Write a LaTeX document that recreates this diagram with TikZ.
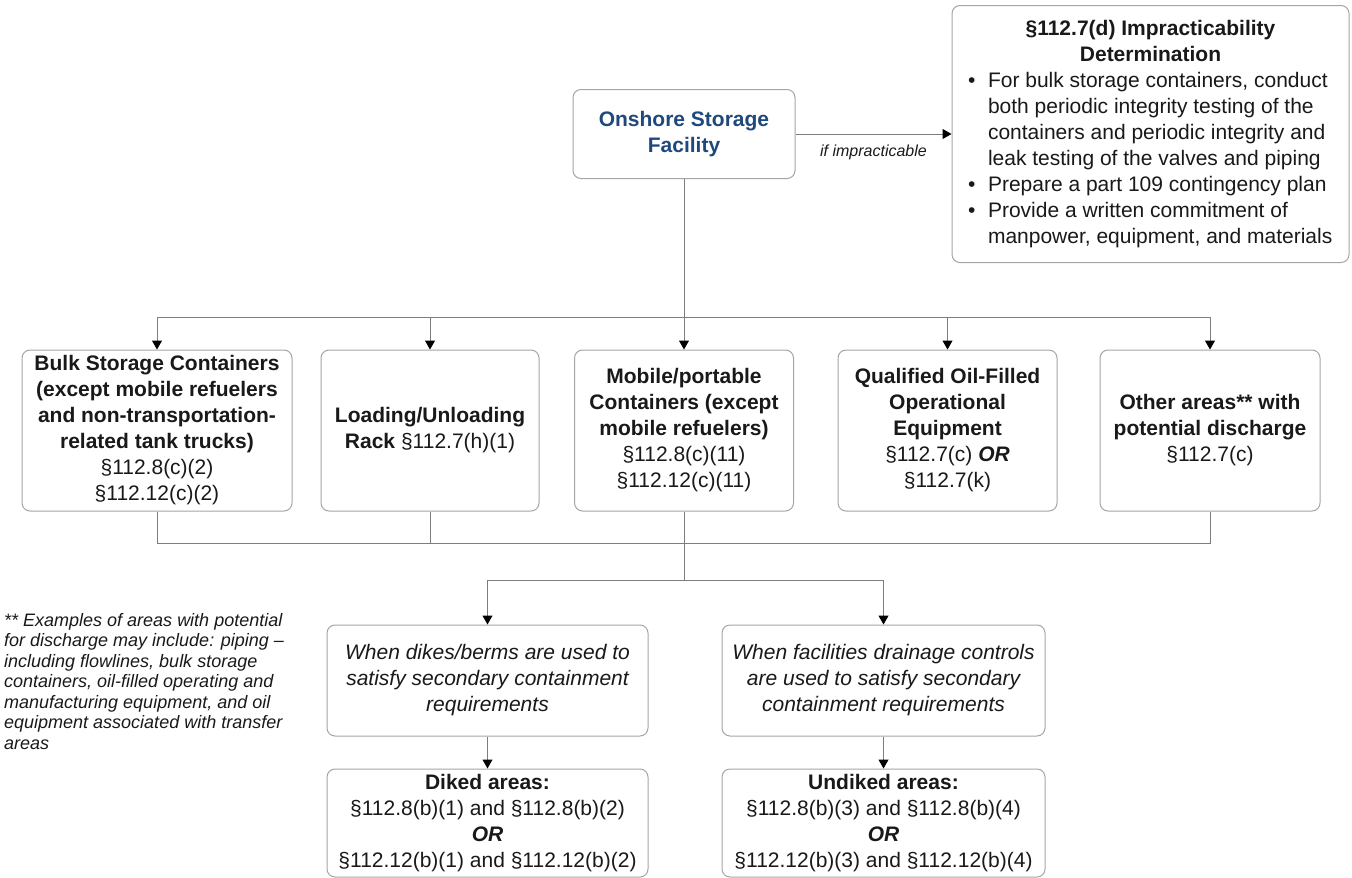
\documentclass[tikz,border=0pt]{standalone}
\usepackage{fontspec}
\setmainfont{Liberation Sans}
\usetikzlibrary{arrows.meta}
\definecolor{boxgray}{RGB}{165,165,165}
\definecolor{linegray}{RGB}{125,125,125}
\definecolor{titleblue}{RGB}{31,73,125}
\definecolor{txt}{RGB}{25,25,25}
\begin{document}
\begin{tikzpicture}[x=1pt,y=-1pt,
  box/.style={draw=boxgray, line width=1pt, rounded corners=8pt, fill=white,
    align=center, inner sep=0pt, text=txt, font=\fontsize{21}{26}\selectfont},
  conn/.style={draw=linegray, line width=1pt},
  arr/.style={conn, -{Triangle[width=10pt,length=9pt,color=black]}},
  note/.style={text=txt, inner sep=0pt},
]
\useasboundingbox (0,0) rectangle (1352,878);

% top
\node[box, minimum width=222pt, minimum height=89pt, text=titleblue,
  font=\fontsize{21}{26}\selectfont\bfseries] (onshore) at (684,134) {Onshore Storage\\Facility};

\node[box, align=left, minimum width=397pt, minimum height=257pt, inner xsep=10pt] (impr) at (1150.5,134)
{\makebox[377pt][c]{\textbf{§112.7(d) Impracticability}}\\
 \makebox[377pt][c]{\textbf{Determination}}\\
 \hspace*{6pt}\makebox[20pt][l]{\textbullet}For bulk storage containers, conduct\\
 \hspace*{26pt}both periodic integrity testing of the\\
 \hspace*{26pt}containers and periodic integrity and\\
 \hspace*{26pt}leak testing of the valves and piping\\
 \hspace*{6pt}\makebox[20pt][l]{\textbullet}Prepare a part 109 contingency plan\\
 \hspace*{6pt}\makebox[20pt][l]{\textbullet}Provide a written commitment of\\
 \hspace*{26pt}manpower, equipment, and materials};

% row of five
\node[box, minimum width=270pt, minimum height=161pt] (bulk) at (157,430.5)
{\textbf{Bulk Storage Containers}\\\textbf{(except mobile refuelers}\\\textbf{and non-transportation-}\\\textbf{related tank trucks)}\\§112.8(c)(2)\\§112.12(c)(2)};
\node[box, minimum width=218pt, minimum height=161pt] (rack) at (430,430.5)
{\textbf{Loading/Unloading}\\\textbf{Rack} §112.7(h)(1)};
\node[box, minimum width=219pt, minimum height=161pt] (mobile) at (684,430.5)
{\textbf{Mobile/portable}\\\textbf{Containers (except}\\\textbf{mobile refuelers)}\\§112.8(c)(11)\\§112.12(c)(11)};
\node[box, minimum width=219pt, minimum height=161pt] (qual) at (947.5,430.5)
{\textbf{Qualified Oil-Filled}\\\textbf{Operational}\\\textbf{Equipment}\\§112.7(c) \textbf{\textit{OR}}\\§112.7(k)};
\node[box, minimum width=220pt, minimum height=161pt] (other) at (1210,430.5)
{\textbf{Other areas** with}\\\textbf{potential discharge}\\§112.7(c)};

% lower boxes
\node[box, minimum width=321pt, minimum height=111pt, font=\fontsize{21}{26}\selectfont\itshape] (dikes) at (487.5,680.5)
{When dikes/berms are used to\\satisfy secondary containment\\requirements};
\node[box, minimum width=323pt, minimum height=111pt, font=\fontsize{21}{26}\selectfont\itshape] (drain) at (883.5,680.5)
{When facilities drainage controls\\are used to satisfy secondary\\containment requirements};

\node[box, minimum width=321pt, minimum height=108pt] (diked) at (487.5,823)
{\textbf{Diked areas:}\\§112.8(b)(1) and §112.8(b)(2)\\\textbf{\textit{OR}}\\§112.12(b)(1) and §112.12(b)(2)};
\node[box, minimum width=323pt, minimum height=108pt] (undiked) at (883.5,823)
{\textbf{Undiked areas:}\\§112.8(b)(3) and §112.8(b)(4)\\\textbf{\textit{OR}}\\§112.12(b)(3) and §112.12(b)(4)};

% footnote
\node[note, anchor=north west, align=left, font=\fontsize{18}{20.5}\selectfont\itshape] (foot) at (4,613)
{** Examples of areas with potential\\for discharge may include: piping –\\including flowlines, bulk storage\\containers, oil-filled operating and\\manufacturing equipment, and oil\\equipment associated with transfer\\areas};

% connectors
\draw[arr] (onshore.east) -- (impr.west)
  node[midway, below=10pt, text=txt, inner sep=0pt, font=\fontsize{16}{18}\selectfont\itshape] (lbl) {if impracticable};

\coordinate (topj) at (684,317);
\coordinate (lowj) at (684,543);
\coordinate (split) at (684,580);

\draw[conn] (onshore.south) -- (topj);
\draw[conn] (bulk.north |- topj) -- (other.north |- topj);
\draw[arr] (bulk.north |- topj) -- (bulk.north);
\draw[arr] (rack.north |- topj) -- (rack.north);
\draw[arr] (mobile.north |- topj) -- (mobile.north);
\draw[arr] (qual.north |- topj) -- (qual.north);
\draw[arr] (other.north |- topj) -- (other.north);

\draw[conn] (bulk.south) |- (other.south |- lowj) -- (other.south);
\draw[conn] (rack.south) -- (rack.south |- lowj);
\draw[conn] (mobile.south) -- (split);
\draw[conn] (dikes.north |- split) -- (drain.north |- split);
\draw[arr] (dikes.north |- split) -- (dikes.north);
\draw[arr] (drain.north |- split) -- (drain.north);
\draw[arr] (dikes.south) -- (diked.north);
\draw[arr] (drain.south) -- (undiked.north);
\end{tikzpicture}
\end{document}
